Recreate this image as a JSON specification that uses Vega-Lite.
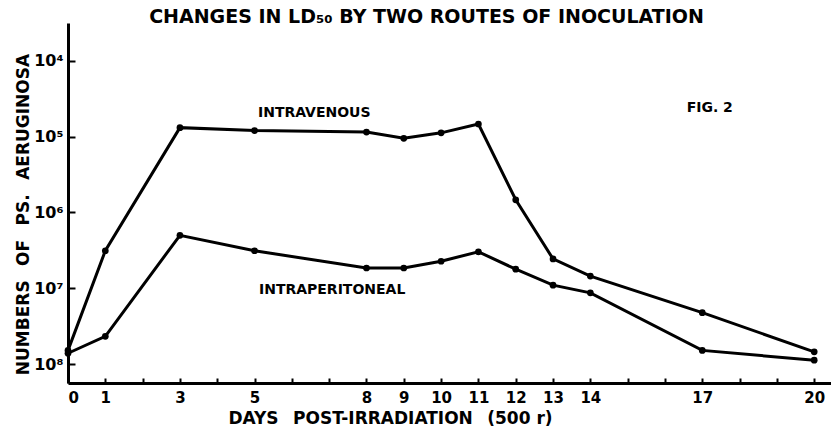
{
  "$schema": "https://vega.github.io/schema/vega-lite/v6.json",
  "width": 763,
  "height": 360,
  "autosize": "none",
  "padding": {"left": 68, "top": 23, "right": 0, "bottom": 47},
  "background": "white",
  "title": {
    "text": "CHANGES IN LD₅₀ BY TWO ROUTES OF INOCULATION",
    "font": "DejaVu Sans",
    "fontSize": 19,
    "fontWeight": "bold",
    "color": "black",
    "anchor": "middle",
    "dx": -23,
    "offset": -4
  },
  "config": {
    "view": {"stroke": null},
    "axis": {"grid": false, "domainColor": "black", "tickColor": "black", "labelColor": "black", "titleColor": "black", "labelFont": "DejaVu Sans", "titleFont": "DejaVu Sans", "labelFontWeight": "bold", "titleFontWeight": "bold", "labelOverlap": false}
  },
  "datasets": {
    "ld50": [
      {"day": 0, "route": "Intravenous", "count": 66000000},
      {"day": 1, "route": "Intravenous", "count": 3200000},
      {"day": 3, "route": "Intravenous", "count": 76000},
      {"day": 5, "route": "Intravenous", "count": 83000},
      {"day": 8, "route": "Intravenous", "count": 87000},
      {"day": 9, "route": "Intravenous", "count": 105000},
      {"day": 10, "route": "Intravenous", "count": 89000},
      {"day": 11, "route": "Intravenous", "count": 68000},
      {"day": 12, "route": "Intravenous", "count": 680000},
      {"day": 13, "route": "Intravenous", "count": 4100000},
      {"day": 14, "route": "Intravenous", "count": 6900000},
      {"day": 17, "route": "Intravenous", "count": 21000000},
      {"day": 20, "route": "Intravenous", "count": 69000000},
      {"day": 0, "route": "Intraperitoneal", "count": 72000000},
      {"day": 1, "route": "Intraperitoneal", "count": 43000000},
      {"day": 3, "route": "Intraperitoneal", "count": 2000000},
      {"day": 5, "route": "Intraperitoneal", "count": 3200000},
      {"day": 8, "route": "Intraperitoneal", "count": 5400000},
      {"day": 9, "route": "Intraperitoneal", "count": 5400000},
      {"day": 10, "route": "Intraperitoneal", "count": 4400000},
      {"day": 11, "route": "Intraperitoneal", "count": 3300000},
      {"day": 12, "route": "Intraperitoneal", "count": 5600000},
      {"day": 13, "route": "Intraperitoneal", "count": 9100000},
      {"day": 14, "route": "Intraperitoneal", "count": 11500000},
      {"day": 17, "route": "Intraperitoneal", "count": 66000000},
      {"day": 20, "route": "Intraperitoneal", "count": 89000000}
    ],
    "notes": [
      {"day": 6.6, "count": 48000, "label": "INTRAVENOUS"},
      {"day": 7.08, "count": 10500000, "label": "INTRAPERITONEAL"},
      {"day": 17.2, "count": 42000, "label": "FIG. 2"}
    ]
  },
  "encoding": {
    "x": {
      "field": "day", "type": "quantitative",
      "scale": {"domain": [0, 20.45], "nice": false, "zero": false},
      "axis": {
        "title": "DAYS\u2002 POST-IRRADIATION\u2002 (500 r)",
        "titleFontSize": 17,
        "titleX": 322,
        "titleY": 27,
        "titleAnchor": "middle",
        "values": [0,1,2,3,4,5,6,7,8,9,10,11,12,13,14,15,16,17,18,19,20],
        "labelExpr": "indexof([0,1,3,5,8,9,10,11,12,13,14,17,20], datum.value) >= 0 ? datum.label : ''",
        "labelOverlap": false,
        "labelFontSize": 15,
        "labelPadding": 12,
        "tickSize": -5,
        "tickWidth": 2,
        "domainWidth": 3
      }
    },
    "y": {
      "field": "count", "type": "quantitative",
      "scale": {"type": "log", "domain": [3162, 177800000], "reverse": true, "nice": false},
      "axis": {
        "title": "NUMBERS\u2002 OF\u2002 PS.\u2002 AERUGINOSA",
        "titleFontSize": 17,
        "titleX": -36,
        "titleY": 191,
        "titleAnchor": "middle",
        "values": [10000, 100000, 1000000, 10000000, 100000000],
        "labelExpr": "datum.value >= 1e8 ? '10⁸' : datum.value >= 1e7 ? '10⁷' : datum.value >= 1e6 ? '10⁶' : datum.value >= 1e5 ? '10⁵' : '10⁴'",
        "labelOverlap": false,
        "labelFontSize": 16,
        "labelPadding": 12,
        "tickSize": -7,
        "tickWidth": 2,
        "domainWidth": 3
      }
    }
  },
  "layer": [
    {
      "data": {"name": "ld50"},
      "mark": {"type": "line", "color": "black", "strokeWidth": 3, "point": {"filled": true, "color": "black", "size": 45}},
      "encoding": {
        "detail": {"field": "route"}
      }
    },
    {
      "data": {"name": "notes"},
      "mark": {"type": "text", "font": "DejaVu Sans", "fontWeight": "bold", "fontSize": 14, "color": "black", "align": "center", "baseline": "middle"},
      "encoding": {
        "text": {"field": "label"}
      }
    }
  ]
}
